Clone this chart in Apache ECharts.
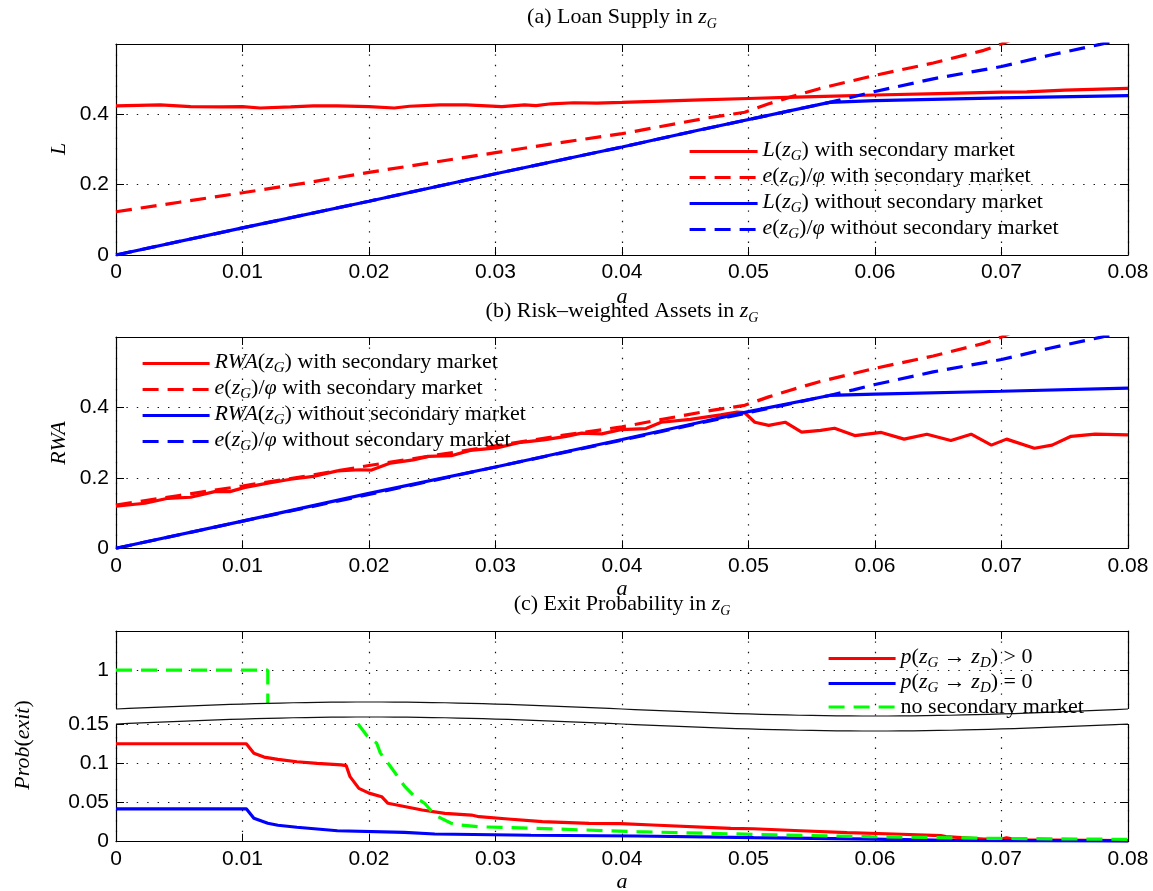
<!DOCTYPE html>
<html>
<head>
<meta charset="utf-8">
<script src="https://cdn.jsdelivr.net/npm/echarts@6/dist/echarts.min.js"></script>
<style>
html, body { margin: 0; background: #fff; }
#chart { width: 1153px; height: 891px; }
</style>
</head>
<body>
<div id="chart"></div>
<script>
// (a) loan supply, [a, value]
var lSec = [[0,0.424],[0.0035,0.427],[0.0059,0.422],[0.0083,0.421],[0.010,0.422],[0.0114,0.418],[0.0138,0.421],[0.0156,0.424],[0.0175,0.424],[0.020,0.422],[0.022,0.418],[0.0232,0.423],[0.0256,0.427],[0.0277,0.427],[0.0305,0.422],[0.0323,0.427],[0.0332,0.425],[0.0344,0.430],[0.0362,0.433],[0.038,0.432],[0.040,0.434],[0.0462,0.441],[0.050,0.445],[0.053,0.448],[0.056,0.451],[0.060,0.455],[0.065,0.459],[0.070,0.463],[0.072,0.464],[0.075,0.469],[0.080,0.474]];
var eSec = [[0,0.123],[0.005,0.150],[0.010,0.177],[0.015,0.205],[0.020,0.235],[0.025,0.263],[0.030,0.291],[0.035,0.319],[0.040,0.345],[0.0468,0.390],[0.0497,0.406],[0.0516,0.430],[0.0533,0.449],[0.0556,0.473],[0.060,0.511],[0.0646,0.546],[0.0686,0.582],[0.070,0.600],[0.072,0.630]];
var lNo = [[0,0],[0.010,0.077],[0.020,0.153],[0.030,0.231],[0.040,0.307],[0.0462,0.356],[0.0564,0.434],[0.060,0.439],[0.070,0.447],[0.080,0.453]];
var eNo = [[0,0],[0.010,0.077],[0.020,0.153],[0.030,0.231],[0.040,0.307],[0.0462,0.356],[0.0564,0.434],[0.0583,0.450],[0.060,0.465],[0.0646,0.501],[0.070,0.536],[0.0738,0.568],[0.0778,0.599],[0.080,0.617]];

// (b) risk-weighted assets
var rwaSec = [[0,0.120],[0.0023,0.128],[0.0041,0.142],[0.0059,0.145],[0.0078,0.161],[0.009,0.161],[0.0102,0.173],[0.012,0.185],[0.0138,0.196],[0.0156,0.204],[0.0175,0.220],[0.0193,0.223],[0.0202,0.222],[0.0217,0.242],[0.0235,0.251],[0.0247,0.261],[0.0265,0.263],[0.028,0.278],[0.0301,0.285],[0.032,0.301],[0.0338,0.308],[0.0356,0.318],[0.0368,0.327],[0.0384,0.325],[0.0399,0.337],[0.0419,0.340],[0.0431,0.358],[0.0454,0.366],[0.0478,0.379],[0.0491,0.387],[0.0497,0.385],[0.0505,0.358],[0.0516,0.349],[0.0529,0.358],[0.0542,0.330],[0.0557,0.335],[0.0568,0.341],[0.0584,0.320],[0.0605,0.329],[0.0623,0.310],[0.0641,0.324],[0.066,0.306],[0.0676,0.324],[0.0692,0.293],[0.0704,0.310],[0.0726,0.284],[0.074,0.293],[0.0755,0.318],[0.0774,0.324],[0.080,0.322]];
var rwaNo = [[0,0],[0.010,0.077],[0.020,0.156],[0.030,0.231],[0.040,0.309],[0.0462,0.358],[0.050,0.388],[0.0564,0.434],[0.060,0.438],[0.070,0.446],[0.080,0.455]];

// (c) exit probability
var pPos = [[0,0.125],[0.0103,0.125],[0.0109,0.113],[0.0117,0.108],[0.0128,0.105],[0.0143,0.102],[0.0159,0.100],[0.0178,0.098],[0.0182,0.097],[0.0185,0.083],[0.0192,0.068],[0.0200,0.062],[0.0210,0.0574],[0.0215,0.049],[0.0226,0.0455],[0.0242,0.0404],[0.0260,0.0362],[0.0281,0.034],[0.0287,0.0319],[0.0310,0.0290],[0.0337,0.0255],[0.0374,0.0235],[0.0399,0.023],[0.0424,0.0213],[0.0486,0.0171],[0.0504,0.0165],[0.0541,0.014],[0.0578,0.0115],[0.0615,0.0098],[0.0652,0.0077],[0.0656,0.0065],[0.0686,0.0034],[0.0700,0.0034],[0.0704,0.005],[0.0712,0.0025],[0.080,0.0013]];
var pZero = [[0,0.042],[0.0103,0.042],[0.0109,0.030],[0.0120,0.0235],[0.0128,0.021],[0.0143,0.0184],[0.0175,0.014],[0.0228,0.012],[0.0252,0.0098],[0.0328,0.0082],[0.0412,0.0073],[0.0504,0.0051],[0.0597,0.0034],[0.0659,0.0017],[0.080,0.001]];
var noSec = [[0,1],[0.012,1],[0.012,0.9],[0.0188,0.16],[0.0191,0.151],[0.0199,0.134],[0.0206,0.126],[0.0209,0.113],[0.0217,0.096],[0.0228,0.071],[0.0237,0.056],[0.0244,0.049],[0.0252,0.034],[0.0265,0.0235],[0.0273,0.0213],[0.0287,0.019],[0.0332,0.017],[0.0412,0.0128],[0.0504,0.0094],[0.0597,0.0064],[0.069,0.0043],[0.080,0.003]];

var yTicksA = [0, 0.2, 0.4];
var yTicksCUp = [1];
var yTicksCLo = [0, 0.05, 0.1, 0.15];

var SANS = 'Liberation Sans', SERIF = 'Liberation Serif';
var RED = '#ff0000', BLUE = '#0000ff', GREEN = '#00ff00';
var DASH = [16, 9];
var LW = 3.2;

// math-ish rich text: n plain, i italic, s subscript
function richSet(size, subSize) {
    return {
        n: { fontFamily: SERIF, fontSize: size, lineHeight: 22, verticalAlign: 'top', color: '#000' },
        i: { fontFamily: SERIF, fontStyle: 'italic', fontSize: size, lineHeight: 22, verticalAlign: 'top', color: '#000' },
        s: { fontFamily: SERIF, fontStyle: 'italic', fontSize: subSize, lineHeight: 25, verticalAlign: 'bottom', color: '#000' }
    };
}
var R = richSet(22, 15);
var RT = richSet(22, 14);

var labels = {
    lSec: '{i|L}{n|(}{i|z}{s|G}{n|) with secondary market}',
    eSecA: '{i|e}{n|(}{i|z}{s|G}{n|)/}{i|φ}{n| with secondary market}',
    lNo: '{i|L}{n|(}{i|z}{s|G}{n|) without secondary market}',
    eNoA: '{i|e}{n|(}{i|z}{s|G}{n|)/}{i|φ}{n| without secondary market}',
    rwaSec: '{i|RWA}{n|(}{i|z}{s|G}{n|) with secondary market}',
    eSecB: '{i|e}{n|(}{i|z}{s|G}{n|)/}{i|φ}{n| with secondary market}',
    rwaNo: '{i|RWA}{n|(}{i|z}{s|G}{n|) without secondary market}',
    eNoB: '{i|e}{n|(}{i|z}{s|G}{n|)/}{i|φ}{n| without secondary market}',
    pPos: '{i|p}{n|(}{i|z}{s|G}{n| → }{i|z}{s|D}{n|) > 0}',
    pZero: '{i|p}{n|(}{i|z}{s|G}{n| → }{i|z}{s|D}{n|) = 0}',
    noSec: 'no secondary market'
};

// plot area
var PX0 = 116, PX1 = 1128;

function gridBox(top, height) {
    return { left: PX0, width: PX1 - PX0, top: top, height: height };
}

var gridDots = { color: '#111', width: 1.2, type: [1.4, 9] };

function xAx(gi, pos, label, line, split) {
    return {
        type: 'value', gridIndex: gi, position: pos, min: 0, max: 0.08, interval: 0.01,
        axisLine: { show: line, onZero: false, lineStyle: { color: '#000', width: 1.2 } },
        axisTick: { show: line, inside: true, length: 8, lineStyle: { color: '#000' } },
        axisLabel: { show: label, color: '#000', fontFamily: SANS, fontSize: 21, margin: 7 },
        splitLine: { show: split, lineStyle: gridDots }
    };
}

function yAx(gi, pos, min, max, ticks, main) {
    return {
        type: 'value', gridIndex: gi, position: pos, min: min, max: max,
        axisLine: { show: true, onZero: false, lineStyle: { color: '#000', width: 1.2 } },
        axisTick: { show: true, inside: true, length: 8, customValues: ticks, lineStyle: { color: '#000' } },
        axisLabel: { show: main, customValues: ticks, color: '#000', fontFamily: SANS, fontSize: 21, margin: 7 },
        splitLine: { show: main, lineStyle: gridDots }
    };
}

function line(name, data, xi, yi, color, dashed) {
    return {
        type: 'line', name: name, data: data, xAxisIndex: xi, yAxisIndex: yi,
        symbol: 'none', silent: true,
        lineStyle: { color: color, width: LW, type: dashed ? DASH : 'solid' },
        itemStyle: { color: color },
        z: 3
    };
}

function legend(names, left, top, itemWidth, gap) {
    return {
        data: names, left: left, top: top, orient: 'vertical', padding: 0,
        itemWidth: itemWidth, itemHeight: 22, itemGap: gap, selectedMode: false, z: 20,
        itemStyle: { opacity: 0 },
        lineStyle: { width: LW },
        formatter: function (n) { return labels[n]; },
        textStyle: { fontFamily: SERIF, fontSize: 22, lineHeight: 22, color: '#000', rich: R }
    };
}

function txt(x, y, text, rich, rot) {
    return {
        type: 'text', x: x, y: y, rotation: rot || 0, z: 30,
        style: { text: text, align: 'center', verticalAlign: 'middle', fontFamily: SERIF, fontSize: 22, fill: '#000', rich: rich }
    };
}

// axis break between the two parts of panel (c)
var waveUp = [], waveLo = [];
for (var k = 0; k <= 80; k++) {
    var px = PX0 + (PX1 - PX0) * k / 80;
    var off = 7 * Math.sin(2 * Math.PI * k / 80);
    waveUp.push([px, 709 - off]);
    waveLo.push([px, 724 - off]);
}
var band = [[PX0 - 3, 709]].concat(waveUp, [[PX1 + 3, 709], [PX1 + 3, 724]], waveLo.slice().reverse(), [[PX0 - 3, 724]]);

var chart = echarts.init(document.getElementById('chart'));
chart.setOption({
    backgroundColor: '#fff',
    animation: false,
    grid: [gridBox(44, 211), gridBox(337, 211.3), gridBox(631, 86.2), gridBox(716.3, 125.4)],
    xAxis: [
        xAx(0, 'bottom', true, true, true), xAx(0, 'top', false, true, false),
        xAx(1, 'bottom', true, true, true), xAx(1, 'top', false, true, false),
        xAx(2, 'bottom', false, false, true), xAx(2, 'top', false, true, false),
        xAx(3, 'bottom', true, true, true), xAx(3, 'top', false, false, false)
    ],
    yAxis: [
        yAx(0, 'left', 0, 0.6, yTicksA, true), yAx(0, 'right', 0, 0.6, yTicksA, false),
        yAx(1, 'left', 0, 0.6, yTicksA, true), yAx(1, 'right', 0, 0.6, yTicksA, false),
        yAx(2, 'left', 0.94, 1.05, yTicksCUp, true), yAx(2, 'right', 0.94, 1.05, yTicksCUp, false),
        yAx(3, 'left', 0, 0.16, yTicksCLo, true), yAx(3, 'right', 0, 0.16, yTicksCLo, false)
    ],
    legend: [
        legend(['lSec', 'eSecA', 'lNo', 'eNoA'], 688, 139, 68, 1),
        legend(['rwaSec', 'eSecB', 'rwaNo', 'eNoB'], 141, 351, 67, 1),
        legend(['pPos', 'pZero', 'noSec'], 827, 646, 67, 0)
    ],
    series: [
        line('lSec', lSec, 0, 0, RED, false),
        line('eSecA', eSec, 0, 0, RED, true),
        line('lNo', lNo, 0, 0, BLUE, false),
        line('eNoA', eNo, 0, 0, BLUE, true),
        line('rwaSec', rwaSec, 2, 2, RED, false),
        line('eSecB', eSec, 2, 2, RED, true),
        line('rwaNo', rwaNo, 2, 2, BLUE, false),
        line('eNoB', eNo, 2, 2, BLUE, true),
        line('noSecUp', noSec, 4, 4, GREEN, true),
        line('pPos', pPos, 6, 6, RED, false),
        line('pZero', pZero, 6, 6, BLUE, false),
        line('noSec', noSec, 6, 6, GREEN, true)
    ],
    graphic: { elements: [
        { type: 'polygon', z: 10, silent: true, shape: { points: band }, style: { fill: '#fff', stroke: null } },
        { type: 'polyline', z: 11, silent: true, shape: { points: waveUp }, style: { stroke: '#111', lineWidth: 1.2, fill: null } },
        { type: 'polyline', z: 11, silent: true, shape: { points: waveLo }, style: { stroke: '#111', lineWidth: 1.2, fill: null } },
        txt(622, 19, '{n|(a) Loan Supply in }{i|z}{s|G}', RT),
        txt(622, 313, '{n|(b) Risk–weighted Assets in }{i|z}{s|G}', RT),
        txt(622, 606, '{n|(c) Exit Probability in }{i|z}{s|G}', RT),
        txt(622, 297, '{i|a}', RT),
        txt(622, 589, '{i|a}', RT),
        txt(622, 882, '{i|a}', RT),
        txt(59, 149, '{i|L}', RT, Math.PI / 2),
        txt(59, 443, '{i|RWA}', RT, Math.PI / 2),
        txt(23, 745, '{i|Prob}{n|(}{i|exit}{n|)}', RT, Math.PI / 2)
    ] }
});
</script>
</body>
</html>
